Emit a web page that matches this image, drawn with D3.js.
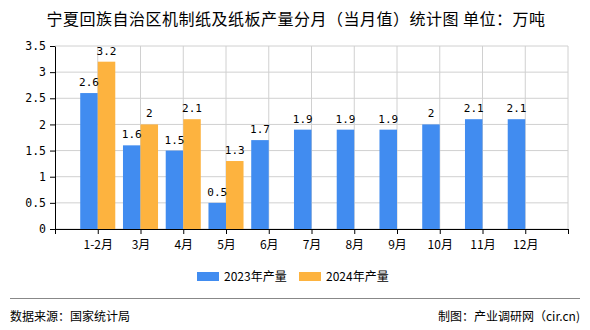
<!DOCTYPE html>
<html><head><meta charset="utf-8">
<script src="https://cdn.jsdelivr.net/npm/d3@7"></script>
<style>body{margin:0;background:#fff}svg{display:block}</style>
</head><body>
<script>
const categories = ["1-2月","3月","4月","5月","6月","7月","8月","9月","10月","11月","12月"];
const series2023 = [2.6,1.6,1.5,0.5,1.7,1.9,1.9,1.9,2,2.1,2.1];
const series2024 = [3.2,2,2.1,1.3];
const yTicks = [0,0.5,1,1.5,2,2.5,3,3.5];
const seriesNames = ["2023年产量","2024年产量"];
const colors = ["#418cf0","#fdb33f"];

(function(){
const W=590,H=330;
const svg=d3.select("body").append("svg").attr("width",W).attr("height",H);
const pL=55,pR=568,pT=46,pB=229;
const x=d3.scaleLinear().domain([0,categories.length+1]).range([pL,pR]);
const y=d3.scaleLinear().domain([0,3.5]).range([pB,pT]);
const unit=x(1)-x(0);
const bw=unit*0.41;
const mono="'DejaVu Sans Mono','Liberation Mono',monospace";
const cjk="'Noto Sans CJK SC','Noto Sans',sans-serif";

svg.append("text").attr("x",296).attr("y",25).attr("text-anchor","middle")
  .attr("font-family",cjk).attr("font-size",16).attr("letter-spacing",0.5).attr("fill","#000")
  .attr("xml:space","preserve").style("white-space","pre")
  .text("宁夏回族自治区机制纸及纸板产量分月（当月值）统计图 单位：万吨");

const ticksX=d3.range(0,categories.length+2);
svg.append("g").selectAll("line").data(yTicks).join("line")
  .attr("x1",pL).attr("x2",pR).attr("y1",d=>y(d)).attr("y2",d=>y(d))
  .attr("stroke","#d0d0d0");
svg.append("g").selectAll("line").data(ticksX.slice(1)).join("line")
  .attr("x1",d=>x(d)).attr("x2",d=>x(d)).attr("y1",pT).attr("y2",pB)
  .attr("stroke","#d0d0d0");

const g=svg.append("g");
g.selectAll("rect.a").data(series2023).join("rect").attr("class","a")
  .attr("x",(d,i)=>x(i+1)-bw).attr("width",bw)
  .attr("y",d=>y(d)).attr("height",d=>pB-y(d)).attr("fill",colors[0]);
g.selectAll("rect.b").data(series2024).join("rect").attr("class","b")
  .attr("x",(d,i)=>x(i+1)).attr("width",bw)
  .attr("y",d=>y(d)).attr("height",d=>pB-y(d)).attr("fill",colors[1]);
g.selectAll("text.a").data(series2023).join("text").attr("class","a")
  .attr("x",(d,i)=>x(i+1)-bw/2).attr("y",d=>y(d)-7).attr("text-anchor","middle")
  .attr("font-family",mono).attr("font-size",11).attr("fill","#000").text(d=>d);
g.selectAll("text.b").data(series2024).join("text").attr("class","b")
  .attr("x",(d,i)=>x(i+1)+bw/2).attr("y",d=>y(d)-7).attr("text-anchor","middle")
  .attr("font-family",mono).attr("font-size",11).attr("fill","#000").text(d=>d);

const yAxis=svg.append("g").attr("transform",`translate(${pL},0)`)
  .call(d3.axisLeft(y).tickValues(yTicks).tickSize(5).tickSizeOuter(0).tickFormat(d=>d));
yAxis.select(".domain").attr("stroke","#000");
yAxis.selectAll("text").attr("font-family",mono).attr("font-size",11.5).attr("fill","#000").attr("dx",-1);
const xAxis=svg.append("g").attr("transform",`translate(0,${pB})`)
  .call(d3.axisBottom(x).tickValues(ticksX).tickSize(5).tickSizeOuter(0)
    .tickFormat(d=>categories[d-1]||""));
xAxis.select(".domain").attr("stroke","#000");
xAxis.selectAll("text").attr("font-family",cjk).attr("font-size",12).attr("fill","#000").attr("dy","1em");

const lg=svg.append("g");
[[197,224],[299,326]].forEach((p,i)=>{
  lg.append("rect").attr("x",p[0]).attr("y",272).attr("width",22).attr("height",9).attr("fill",colors[i]);
  lg.append("text").attr("x",p[1]).attr("y",281).attr("font-family",cjk).attr("font-size",12)
    .attr("fill","#000").text(seriesNames[i]);
});

svg.append("line").attr("x1",10).attr("x2",580).attr("y1",298.5).attr("y2",298.5).attr("stroke","#888");
svg.append("text").attr("x",10).attr("y",321).attr("font-family",cjk).attr("font-size",12).attr("fill","#000").text("数据来源：国家统计局");
svg.append("text").attr("x",580).attr("y",321).attr("text-anchor","end").attr("font-family",cjk).attr("font-size",12).attr("fill","#000").text("制图：产业调研网（cir.cn)");
})();
</script>
</body></html>
